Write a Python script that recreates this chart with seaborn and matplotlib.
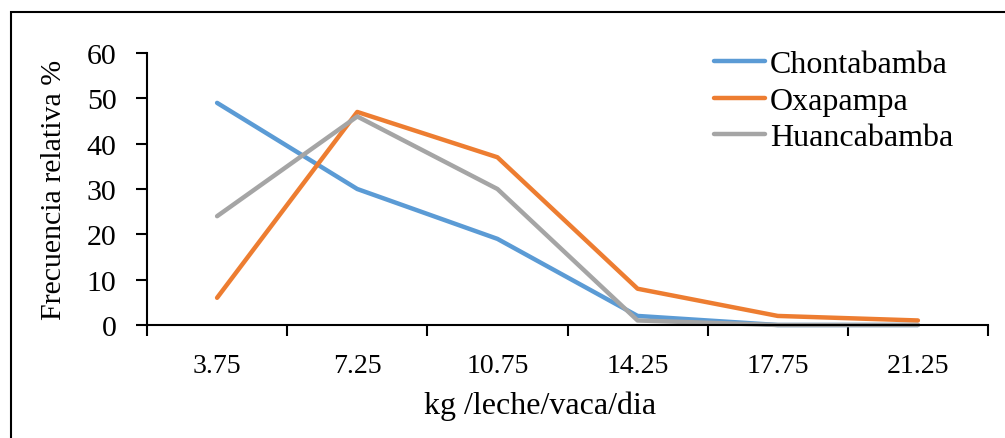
import matplotlib
matplotlib.use("Agg")
import matplotlib.pyplot as plt
import seaborn as sns
import pandas as pd
from matplotlib.patches import Rectangle
from matplotlib.ticker import FixedLocator

categories = ["3.75", "7.25", "10.75", "14.25", "17.75", "21.25"]
chontabamba = [49, 30, 19, 2, 0, 0]
oxapampa = [6, 47, 37, 8, 2, 1]
huancabamba = [24, 46, 30, 1, 0, 0]
series_names = ["Chontabamba", "Oxapampa", "Huancabamba"]
colors = ["#5B9BD5", "#ED7D31", "#A5A5A5"]

rows = []
for name, vals in zip(series_names, [chontabamba, oxapampa, huancabamba]):
    for c, v in zip(categories, vals):
        rows.append({"cat": c, "val": v, "serie": name})
df = pd.DataFrame(rows)

sns.set_style("white")
plt.rcParams["font.family"] = ["Liberation Serif", "DejaVu Serif"]

fig = plt.figure(figsize=(10.05, 4.39), dpi=100)
ax = fig.add_axes([147/1005, 1-326/439, (988-147)/1005, (326-54)/439])

sns.lineplot(data=df, x="cat", y="val", hue="serie", hue_order=series_names,
             palette=colors, linewidth=3.2, ax=ax, sort=False, clip_on=False)

ax.set_xlim(-0.5, len(categories) - 0.5)
ax.set_ylim(0, 60)
ax.set_yticks(range(0, 61, 10))
ax.set_xticks(range(len(categories)))
ax.set_xticklabels(categories)
ax.xaxis.set_minor_locator(FixedLocator([i - 0.5 for i in range(len(categories) + 1)]))
ax.tick_params(axis="x", which="major", length=0, labelsize=20, pad=20, colors="black")
ax.tick_params(axis="x", which="minor", length=8, width=1.5, direction="out", color="black", bottom=True)
ax.tick_params(axis="y", length=8, width=1.5, direction="out", labelsize=21.5, pad=14, colors="black", left=True)

for s in ["top", "right"]:
    ax.spines[s].set_visible(False)
for s in ["left", "bottom"]:
    ax.spines[s].set_color("black")
    ax.spines[s].set_linewidth(1.5)

ax.set_xlabel("kg /leche/vaca/dia", fontsize=23, labelpad=10, color="black")
ax.xaxis.set_label_coords((540 - 147) / 841, -0.2425)
ax.set_ylabel("Frecuencia relativa %", fontsize=21.5, labelpad=14, color="black")

leg = ax.legend(loc="upper right", bbox_to_anchor=(969/1005, 1-35/439), bbox_transform=fig.transFigure,
                frameon=False, fontsize=23, handlelength=1.6, handletextpad=0.15,
                labelspacing=0.22, borderpad=0)
for t in leg.get_texts():
    t.set_color("black")
for h in leg.get_lines():
    h.set_linewidth(3.2)

fig.patches.append(Rectangle((11/1005, -0.1), 1.2, 1.1 - 13/439,
                             transform=fig.transFigure, fill=False, edgecolor="black",
                             linewidth=1.5, figure=fig))

fig.savefig("out.png", dpi=100)
